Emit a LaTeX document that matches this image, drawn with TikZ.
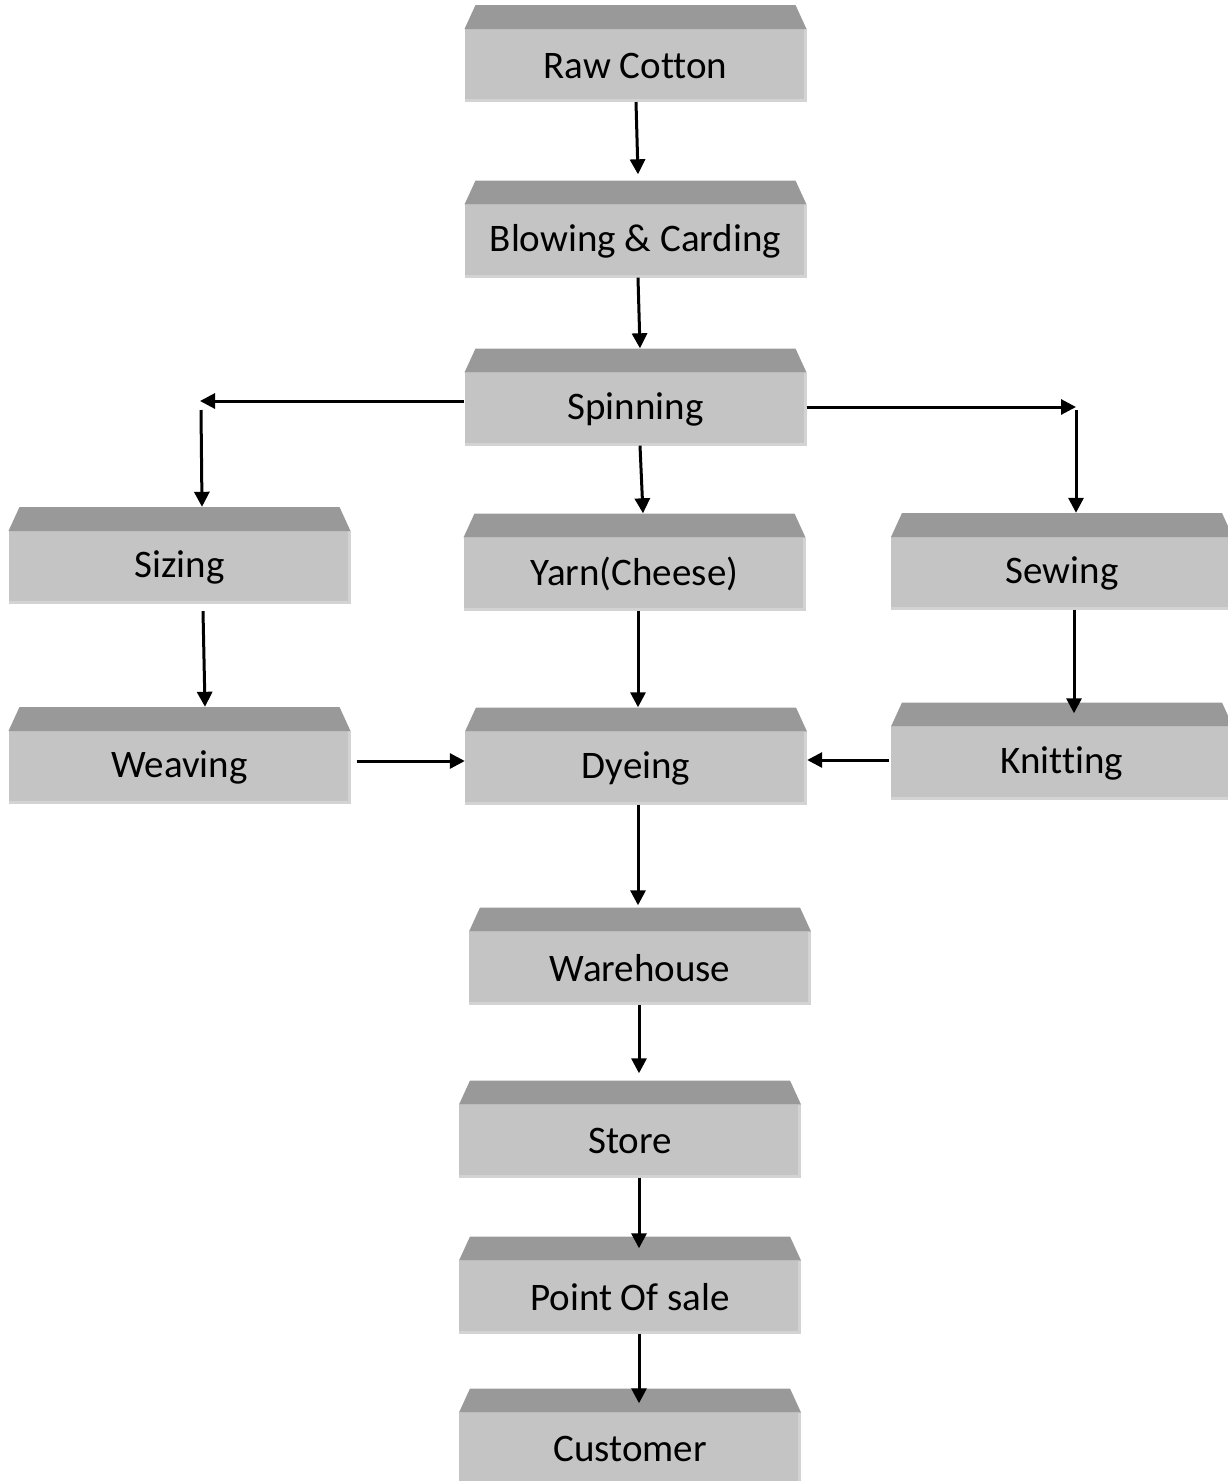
\documentclass[tikz,border=0pt]{standalone}
\usepackage{fontspec}
\setmainfont{Carlito}[RawFeature={-liga;-clig;-calt}]
\usetikzlibrary{arrows.meta}
\definecolor{topc}{HTML}{999999}
\definecolor{bodyc}{HTML}{C4C4C4}
\definecolor{edgec}{HTML}{D3D3D3}
\newcommand\lowtext[1]{\raisebox{-12pt}[\height][\depth]{#1}}
\tikzset{
  box/.style={rectangle, minimum width=342, minimum height=97, inner sep=0pt,
    font=\fontsize{39}{46}\selectfont,
    path picture={
      \fill[bodyc] ([yshift=-24pt]path picture bounding box.north west) rectangle (path picture bounding box.south east);
      \fill[edgec] ([yshift=3pt]path picture bounding box.south west) rectangle (path picture bounding box.south east);
      \fill[edgec] ([xshift=-3pt,yshift=-24pt]path picture bounding box.north east) rectangle (path picture bounding box.south east);
      \fill[topc] ([yshift=-24pt]path picture bounding box.north west) -- ([xshift=11pt]path picture bounding box.north west) -- ([xshift=-11pt]path picture bounding box.north east) -- ([yshift=-24pt]path picture bounding box.north east) -- cycle;
    }},
  arr/.style={line width=3pt, -{Triangle[length=15pt,width=15pt]}}
}
\begin{document}
\begin{tikzpicture}[x=1pt,y=-1pt]
\useasboundingbox[fill=white] (0,0) rectangle (1228,1481);
\node[box] (raw) at (635.5,53.5) {\lowtext{Raw Cotton}};
\node[box] (blow) at (635.5,229) {\lowtext{Blowing \& Carding}};
\node[box] (spin) at (635.5,397) {\lowtext{Spinning}};
\node[box] (siz) at (179.5,555.5) {\lowtext{Sizing}};
\node[box] (yarn) at (634.5,562) {\lowtext{Yarn(Cheese)}};
\node[box] (sew) at (1062,561.5) {\lowtext{Sewing}};
\node[box] (weav) at (179.5,755.5) {\lowtext{Weaving}};
\node[box] (dye) at (636,756) {\lowtext{Dyeing}};
\node[box] (knit) at (1062,751) {\lowtext{Knitting}};
\node[box] (ware) at (640,956) {\lowtext{Warehouse}};
\node[box] (store) at (630,1129) {\lowtext{Store}};
\node[box] (pos) at (630,1285) {\lowtext{Point Of sale}};
\node[box] (cust) at (630,1437) {\lowtext{Customer}};

\coordinate (lc) at (200,401);
\coordinate (rc) at (1076,407);

\draw[arr] ([xshift=0.5pt]raw.south) -- ([xshift=2.5pt,yshift=6pt]blow.north);
\draw[arr] ([xshift=2.5pt]blow.south) -- ([xshift=4.5pt]spin.north);
\draw[arr] ([yshift=-4pt]spin.west) -- (lc);
\draw[arr] ([xshift=1pt,yshift=-9pt]lc) -- ([xshift=22.5pt]siz.north);
\draw[arr] ([xshift=4.5pt]spin.south) -- ([xshift=8.5pt]yarn.north);
\draw[arr] ([yshift=-10pt]spin.east) -- (rc);
\draw[arr] ([yshift=-3pt]rc) -- ([xshift=14pt]sew.north);
\draw[arr] ([xshift=23.5pt,yshift=-7pt]siz.south) -- ([xshift=25.5pt]weav.north);
\draw[arr] ([xshift=3.5pt]yarn.south) -- ([xshift=2pt]dye.north);
\draw[arr] ([xshift=12pt]sew.south) -- ([xshift=12pt,yshift=-11pt]knit.north);
\draw[arr] ([xshift=6pt,yshift=-5.5pt]weav.east) -- ([yshift=-5pt]dye.west);
\draw[arr] ([xshift=-2pt,yshift=-9pt]knit.west) -- ([yshift=-4pt]dye.east);
\draw[arr] ([xshift=2pt]dye.south) -- ([xshift=-2pt,yshift=2pt]ware.north);
\draw[arr] ([xshift=-1pt]ware.south) -- ([xshift=9pt,yshift=7pt]store.north);
\draw[arr] ([xshift=9pt]store.south) -- ([xshift=9pt,yshift=-12pt]pos.north);
\draw[arr] ([xshift=9pt]pos.south) -- ([xshift=9pt,yshift=-15pt]cust.north);
\end{tikzpicture}
\end{document}
